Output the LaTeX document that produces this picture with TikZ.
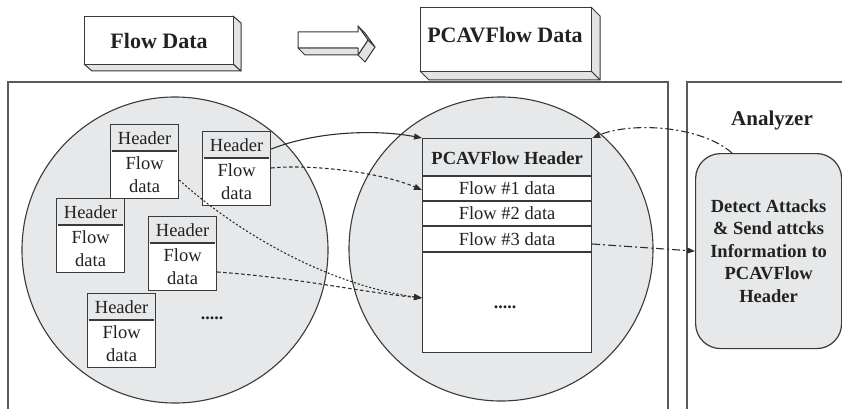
\documentclass[tikz,border=0pt]{standalone}
\usepackage{fontspec}
\setmainfont{Liberation Serif}
\usetikzlibrary{arrows.meta,calc}

\definecolor{ink}{HTML}{3A3A3A}
\definecolor{wire}{HTML}{2E2E2E}
\definecolor{txt}{HTML}{222222}
\definecolor{poolgray}{HTML}{E7E8E9}
\definecolor{sidegray}{HTML}{E2E3E4}
\definecolor{framec}{HTML}{5A5A5A}

\tikzset{
  pkt/.style={draw=ink, line width=1.2pt, minimum width=68pt, minimum height=74pt,
              inner sep=0pt, fill=white},
  lbl/.style={text=txt, inner sep=0pt, align=center, font=\fontsize{18.5}{23}\selectfont},
  blbl/.style={text=txt, inner sep=0pt, align=center, font=\bfseries\fontsize{18.5}{22.5}\selectfont},
  title/.style={text=txt, inner sep=0pt, font=\bfseries\fontsize{22}{24}\selectfont},
  facebox/.style={draw=ink, line width=1.1pt, fill=white, inner sep=0pt, anchor=north west},
  sideface/.style={draw=ink, line width=1pt, fill=sidegray, line join=round},
  tip/.style={-{Triangle[length=8pt,width=6pt]}},
  flowline/.style={draw=wire, line width=1.1pt},
  dashline/.style={flowline, dash pattern=on 3.5pt off 2.5pt},
  dotline/.style={flowline, dash pattern=on 2pt off 2pt},
  dashdot/.style={flowline, dash pattern=on 8pt off 3pt on 2pt off 3pt},
}

% packet: header cell on top of a flow-data cell
\newcommand\pktbox[3]{%
  \node[pkt, anchor=north west] (#1) at (#2,#3) {};
  \fill[poolgray] ($(#1.north west)+(1.2,1.2)$) rectangle ($(#1.north east)+(-1.2,27)$);
  \draw[ink, line width=1.2pt] ($(#1.north west)+(2,27)$) -- ($(#1.north east)+(-2,27)$);
  \node[lbl, font=\fontsize{18.5}{21}\selectfont] (#1h) at ($(#1.north)+(0,14)$) {Header};
  \node[lbl] (#1d) at ($(#1.north)+(0,51)$) {Flow\\data};
}

\begin{document}
\begin{tikzpicture}[x=1pt, y=-1pt]
\useasboundingbox (0,0) rectangle (842,409);
\fill[white] (0,0) rectangle (842,409);

% ---- legend: Flow Data => PCAVFlow Data
\draw[sideface] (233,16) -- (241,23) -- (241,71) -- (233,64) -- cycle;
\draw[sideface] (84,64) -- (233,64) -- (241,71) -- (92,71) -- cycle;
\node[facebox, minimum width=149pt, minimum height=48pt] (fd) at (84,16) {};
\node[title] (fdt) at (fd.center) {Flow Data};

% block arrow
\draw[sideface] (298,48) -- (358,48) -- (365,55) -- (305,55) -- cycle;
\draw[sideface] (368,40) -- (375,47) -- (365,62) -- (358,55) -- cycle;
\draw[sideface] (358,26) -- (368,40) -- (375,47) -- (365,33) -- cycle;
\draw[draw=ink, line width=1pt, fill=white, line join=round]
  (298,32) -- (358,32) -- (358,26) -- (368,40) -- (358,55) -- (358,48) -- (298,48) -- cycle;

\draw[sideface] (591,7) -- (600,16) -- (600,80) -- (591,71) -- cycle;
\draw[sideface] (420,71) -- (591,71) -- (600,80) -- (429,80) -- cycle;
\node[facebox, minimum width=171pt, minimum height=64pt] (pd) at (420,7) {};
\node[title] (pdt) at (505,35) {PCAVFlow Data};

% ---- panels
\draw[framec, line width=1.3pt] (8,409) -- (8,82) -- (668,82) -- (668,409);
\draw[framec, line width=1.3pt] (687,409) -- (687,82) -- (842,82);

% ---- flow pools
\node[circle, draw=ink, fill=poolgray, line width=1.1pt, minimum size=306pt, inner sep=0pt] (cl) at (175,250) {};
\node[circle, draw=ink, fill=poolgray, line width=1.1pt, minimum size=304pt, inner sep=0pt] (cr) at (501,249) {};

% packets
\pktbox{b1}{110}{124}
\pktbox{b2}{202}{131}
\pktbox{b3}{56}{198}
\pktbox{b4}{148}{216}
\pktbox{b5}{87}{293}
\node[lbl, font=\bfseries\fontsize{18}{20}\selectfont] (dl) at (212,318) {.....};

% PCAVFlow record
\node[draw=ink, line width=1.2pt, fill=white, minimum width=169pt, minimum height=214pt,
      inner sep=0pt, anchor=north west] (tbl) at (422,138) {};
\fill[poolgray] ($(tbl.north west)+(1.2,1.2)$) rectangle ($(tbl.north east)+(-1.2,38)$);
\foreach \dy in {38,63,88,114}
  \draw[ink, line width=1.2pt] ($(tbl.north west)+(1,\dy)$) -- ($(tbl.north east)+(-1,\dy)$);
\node[lbl, font=\bfseries\fontsize{18.5}{22}\selectfont] (th) at ($(tbl.north)+(0,20)$) {PCAVFlow Header};
\node[lbl] (r1) at ($(tbl.north)+(0,50)$) {Flow \#1 data};
\node[lbl] (r2) at ($(tbl.north)+(0,75)$) {Flow \#2 data};
\node[lbl] (r3) at ($(tbl.north)+(0,101)$) {Flow \#3 data};
\node[lbl, font=\bfseries\fontsize{18}{20}\selectfont] (dr) at (505,307) {.....};

% analyzer
\node[title, font=\bfseries\fontsize{21}{24}\selectfont] (anat) at (772,120) {Analyzer};
\node[draw=ink, line width=1.2pt, fill=poolgray, rounded corners=25pt, minimum width=146pt,
      minimum height=195pt, anchor=north west, inner sep=0pt, blbl] (ana) at (695,153)
      {Detect Attacks\\\& Send attcks\\Information to\\PCAVFlow\\Header};

% ---- connectors
\draw[flowline, tip] ($(b2.north east)+(0,18)$)
  .. controls (320,130) and (380,130) .. (tbl.north west);
\draw[dashline, tip] ($(b2.north east)+(0,37)$)
  .. controls (310,164) and (380,172) .. ($(tbl.north west)+(0,52)$);
\draw[dotline, tip] ($(b1.north east)+(0,56)$)
  .. controls (240,235) and (330,285) .. ($(tbl.north west)+(0,160)$);
\draw[dashline, tip] ($(b4.north east)+(0,56)$)
  .. controls (300,278) and (360,292) .. ($(tbl.north west)+(0,160)$);
\draw[dashdot, tip] ($(tbl.north east)+(0,106)$) -- (ana.west);
\draw[dashdot, tip] ($(ana.north west)+(37,0)$)
  .. controls (700,125) and (630,122) .. (tbl.north east);
\end{tikzpicture}
\end{document}
